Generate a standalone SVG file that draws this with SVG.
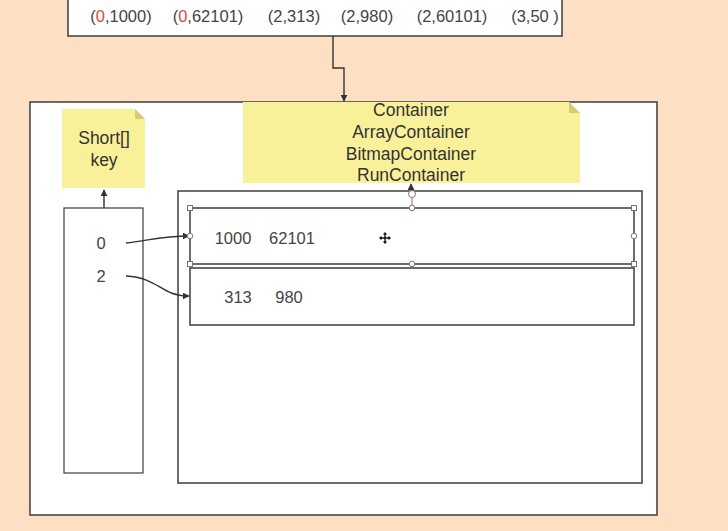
<svg xmlns="http://www.w3.org/2000/svg" width="728" height="531" viewBox="0 0 728 531">
<defs>
<style>
.bx{fill:#fff;stroke:#3d3d3d;stroke-width:1.5}
.t{font-family:"Liberation Sans","Noto Sans",sans-serif;fill:#444;font-size:16.5px;text-anchor:middle}
.tn{font-family:"Liberation Sans","Noto Sans",sans-serif;fill:#333;font-size:17.5px;text-anchor:middle}
.r{fill:#d24a43}
.note{fill:#F9F19A}
.fold{fill:#D5CC78}
.c{fill:none;stroke:#333;stroke-width:1.4}
.h{fill:#fff;stroke:#8a7070;stroke-width:1}
</style>
<marker id="ah" viewBox="0 0 10 10" refX="9" refY="5" markerWidth="7" markerHeight="7" orient="auto-start-reverse" markerUnits="userSpaceOnUse">
<path d="M0,0 L10,5 L0,10 z" fill="#333"/>
</marker>
</defs>
<rect width="728" height="531" fill="#FDE0C4"/>

<g id="input">
<rect class="bx" x="68" y="-2" width="494" height="38"/>
<text class="t" y="22" x="121">(<tspan class="r">0</tspan>,1000)</text>
<text class="t" y="22" x="208">(<tspan class="r">0</tspan>,62101)</text>
<text class="t" y="22" x="294">(2,313)</text>
<text class="t" y="22" x="367">(2,980)</text>
<text class="t" y="22" x="452">(2,60101)</text>
<text class="t" y="22" x="535">(3,50 )</text>
</g>

<g id="roaring">
<rect class="bx" x="30" y="102" width="627" height="413"/>
</g>

<g id="keynote">
<path class="note" d="M62,109 H135 L145,119 V188 H62 z"/>
<path class="fold" d="M135,109 L145,119 H135 z"/>
<text class="tn" x="104" y="144">Short[]</text>
<text class="tn" x="104" y="166">key</text>
</g>

<g id="keys">
<rect class="bx" x="64" y="208" width="79" height="265" style="stroke-width:1.2"/>
<text class="t" x="101" y="249">0</text>
<text class="t" x="101" y="282">2</text>
</g>

<g id="containers">
<rect class="bx" x="178" y="191" width="464" height="292"/>
</g>

<g id="containernote">
<path class="note" d="M243,102 H569 L580,113 V183 H243 z"/>
<path class="fold" d="M569,102 L580,113 H569 z"/>
<text class="tn" x="411" y="116">Container</text>
<text class="tn" x="411" y="138">ArrayContainer</text>
<text class="tn" x="411" y="160">BitmapContainer</text>
<text class="tn" x="411" y="181">RunContainer</text>
</g>

<g id="container0">
<rect class="bx" x="190" y="208" width="444" height="56"/>
<text class="t" x="233" y="244">1000</text>
<text class="t" x="292" y="244">62101</text>
</g>

<g id="container2">
<rect class="bx" x="190" y="268" width="444" height="57"/>
<text class="t" x="238" y="303">313</text>
<text class="t" x="289" y="303">980</text>
</g>

<g id="connectors">
<path class="c" d="M333,36 V68 H344 V101" marker-end="url(#ah)"/>
<path class="c" d="M104,208 V190" marker-end="url(#ah)"/>
<path class="c" d="M126,243 C150,240 165,236 189,236" marker-end="url(#ah)"/>
<path class="c" d="M126,276 C160,278 160,296 189,296" marker-end="url(#ah)"/>
<path class="c" d="M411,191 V184" marker-end="url(#ah)"/>
</g>

<g id="selection">
<line x1="412" y1="198" x2="412" y2="208" stroke="#8a7070" stroke-width="1"/>
<circle class="h" cx="412" cy="194" r="3.5"/>
<rect class="h" x="187.5" y="205.5" width="5" height="5"/>
<rect class="h" x="631.5" y="205.5" width="5" height="5"/>
<rect class="h" x="187.5" y="261.5" width="5" height="5"/>
<rect class="h" x="631.5" y="261.5" width="5" height="5"/>
<circle class="h" cx="412" cy="208" r="2.8"/>
<circle class="h" cx="412" cy="264" r="2.8"/>
<circle class="h" cx="190" cy="236" r="2.8"/>
<circle class="h" cx="634" cy="236" r="2.8"/>
<g transform="translate(385,238)" fill="#111">
<path d="M-0.7,-4 H0.7 V4 H-0.7 z M-4,-0.7 H4 V0.7 H-4 z"/>
<path d="M0,-6 L-2.2,-3.5 H2.2 z M0,6 L-2.2,3.5 H2.2 z M-6,0 L-3.5,-2.2 V2.2 z M6,0 L3.5,-2.2 V2.2 z"/>
</g>
</g>
</svg>
